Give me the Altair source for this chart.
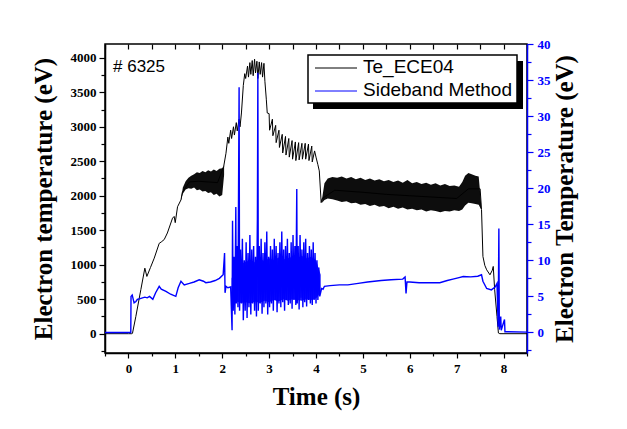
import altair as alt
import pandas as pd

# ---------------- data ----------------
# Te_ECE04 (left axis, eV) : main trace
ece_t = [-0.5, 0.0, 0.07, 0.086, 0.158, 0.265, 0.35, 0.393, 0.47, 0.55, 0.656, 0.70, 0.763, 0.83,
         0.94, 0.975, 0.998, 1.047, 1.12, 1.15, 1.3, 1.5, 1.7, 1.9, 2.03,
         2.08, 2.12, 2.14, 2.18, 2.20, 2.24, 2.26, 2.30, 2.32, 2.36, 2.38, 2.41, 2.45, 2.48, 2.50, 2.54,
         2.56, 2.59, 2.61, 2.64, 2.66, 2.69, 2.71, 2.74, 2.76, 2.79, 2.81, 2.84, 2.86, 2.89, 2.91, 2.94, 2.96,
         3.00, 3.01, 3.07, 3.08, 3.14, 3.15, 3.21, 3.22, 3.28, 3.29, 3.35, 3.36, 3.42, 3.43, 3.49, 3.50,
         3.56, 3.57, 3.63, 3.64, 3.70, 3.71, 3.77, 3.78, 3.84, 3.85, 3.91, 3.92, 3.97, 4.00, 4.04, 4.07,
         4.11, 4.13, 4.4, 5.0, 5.5, 6.0, 6.5, 7.0, 7.25, 7.50, 7.53, 7.56, 7.60, 7.64, 7.71, 7.76, 7.78,
         7.81, 7.86, 7.89, 7.92, 8.5]
ece_v = [0, 0, 0, 5, 250, 640, 950, 830, 960, 1095, 1310, 1330, 1365, 1460,
         1675, 1700, 1610, 1840, 1940, 2050, 2200, 2210, 2200, 2190, 2420,
         2616, 2850, 2760, 2950, 2830, 3000, 2880, 3060, 2940, 3110, 3000, 3200, 3600, 3770, 3700, 3880,
         3720, 3930, 3760, 3960, 3740, 3980, 3780, 3950, 3700, 3940, 3760, 3930, 3720, 3920, 3660, 3400, 3200,
         3190, 2950, 3110, 2870, 3020, 2770, 2950, 2700, 2890, 2620, 2860, 2590, 2830, 2560, 2800, 2530,
         2780, 2510, 2770, 2520, 2760, 2530, 2760, 2530, 2750, 2510, 2720, 2490, 2650, 2560, 2450, 2360,
         1900, 1960, 2080, 2050, 2020, 2000, 1980, 1960, 2100, 2100, 1800, 1120, 990, 926, 854, 920, 975,
         640, 250, 10, 0, 0]

# Te_ECE04 dense-oscillation envelopes (two segments)
band_seg = ["a"] * 17 + ["b"] * 38
band_t = [1.12, 1.16, 1.22, 1.28, 1.34, 1.40, 1.46, 1.52, 1.58, 1.64, 1.70, 1.76, 1.82, 1.88, 1.94, 2.00, 2.04,
          4.13, 4.18, 4.25, 4.35, 4.45, 4.55, 4.65, 4.75, 4.85, 4.95, 5.05, 5.15, 5.25, 5.35, 5.45, 5.55,
          5.65, 5.75, 5.85, 5.95, 6.05, 6.15, 6.25, 6.35, 6.45, 6.55, 6.65, 6.75, 6.85, 6.95, 7.05, 7.12,
          7.18, 7.25, 7.32, 7.40, 7.47, 7.52]
band_hi = [1950, 2120, 2210, 2260, 2290, 2310, 2340, 2330, 2360, 2340, 2370, 2350, 2380, 2360, 2390, 2400, 2440,
           1960, 2180, 2250, 2270, 2260, 2280, 2250, 2270, 2240, 2260, 2230, 2250, 2220, 2240, 2210, 2230,
           2200, 2220, 2190, 2230, 2180, 2200, 2170, 2190, 2160, 2180, 2150, 2170, 2140, 2150, 2130, 2200,
           2290, 2330, 2310, 2290, 2280, 1900]
band_lo = [1930, 2030, 2090, 2110, 2100, 2120, 2080, 2090, 2060, 2070, 2040, 2050, 2010, 2030, 1990, 2010, 2300,
           1900, 1940, 1960, 1950, 1930, 1910, 1920, 1890, 1900, 1870, 1880, 1850, 1870, 1840, 1850, 1820,
           1840, 1810, 1830, 1800, 1810, 1790, 1800, 1770, 1790, 1780, 1760, 1780, 1770, 1790, 1780, 1800,
           1860, 1900, 1890, 1880, 1870, 1800]

# Sideband Method (right axis, eV)
sb_t = [-0.5, 0.05, 0.055, 0.08, 0.12, 0.16, 0.19, 0.25, 0.30, 0.35, 0.40, 0.45, 0.52, 0.58, 0.656,
        0.70, 0.80, 0.90, 1.01, 1.06, 1.12, 1.19, 1.30, 1.40, 1.51, 1.60, 1.65, 1.75, 1.85, 1.94, 2.02,
        2.05, 2.06, 2.08, 2.12, 2.18,
        2.21, 2.22, 2.235, 2.25, 2.27, 2.29, 2.30, 2.32, 2.335, 2.36, 2.37, 2.39, 2.41, 2.43, 2.45, 2.47,
        2.49, 2.51, 2.53, 2.55, 2.57, 2.59, 2.61, 2.63, 2.65, 2.67, 2.69, 2.71, 2.73, 2.75, 2.76, 2.77,
        2.79, 2.81, 2.83, 2.85, 2.87, 2.89, 2.91, 2.93, 2.95, 2.97, 2.99, 3.01, 3.03, 3.05, 3.07, 3.09,
        3.11, 3.13, 3.15, 3.17, 3.19, 3.21, 3.23, 3.25, 3.27, 3.29, 3.31, 3.33, 3.35, 3.37, 3.39, 3.41,
        3.43, 3.45, 3.47, 3.49, 3.51, 3.53, 3.55, 3.57, 3.59, 3.60, 3.62, 3.64, 3.66, 3.68, 3.70, 3.72,
        3.74, 3.76, 3.78, 3.80, 3.82, 3.84, 3.86, 3.88, 3.90, 3.92, 3.94, 3.96, 3.98, 4.00, 4.02, 4.04,
        4.06, 4.08, 4.12, 4.15, 4.18, 4.30, 4.50, 4.68, 4.90, 5.10, 5.39, 5.60, 5.85, 5.90, 5.92, 5.94,
        6.00, 6.20, 6.40, 6.64, 6.80, 6.92, 7.05, 7.14, 7.30, 7.45, 7.53, 7.56, 7.64, 7.74, 7.82, 7.86,
        7.885, 7.90, 7.91, 7.94, 7.95, 8.02, 8.03, 8.5]
sb_v = [0, 0, 5.0, 5.2, 4.1, 4.3, 4.6, 4.7, 4.8, 4.9, 4.8, 5.0, 4.6, 5.5, 6.4,
        6.0, 5.7, 5.3, 5.0, 6.2, 7.1, 6.6, 6.8, 7.0, 7.3, 7.1, 6.9, 7.0, 7.2, 7.5, 8.0,
        11.0, 5.5, 6.4, 6.2, 6.3,
        0.3, 15.5, 3.0, 10.5, 2.5, 17.4, 4.0, 12.0, 3.5, 34.0, 3.0, 11.5, 4.0, 13.0, 1.7, 10.0,
        3.0, 12.5, 2.0, 11.0, 3.5, 13.5, 2.5, 11.5, 4.0, 12.0, 3.0, 10.5, 2.2, 15.7, 36.0, 3.0,
        12.0, 4.0, 13.0, 2.6, 11.0, 3.5, 12.5, 4.0, 14.0, 2.5, 10.5, 3.5, 12.0, 4.0, 11.5, 3.0,
        13.0, 4.5, 12.0, 2.8, 11.0, 4.0, 12.5, 3.5, 14.0, 4.2, 11.5, 3.0, 12.0, 4.5, 13.0, 3.8,
        11.0, 4.0, 12.5, 3.3, 13.5, 4.5, 12.0, 3.8, 19.9, 4.0, 12.0, 3.2, 13.5, 4.8, 11.5, 3.5,
        12.5, 4.2, 13.0, 3.6, 11.0, 4.5, 12.0, 4.0, 11.5, 3.8, 12.5, 4.5, 11.0, 4.0, 10.0, 4.5,
        9.0, 5.0, 6.1, 6.0, 6.4, 6.5, 6.6, 6.6, 6.8, 7.0, 7.2, 7.3, 7.4, 7.7, 5.4, 7.0,
        7.0, 6.9, 6.9, 6.9, 7.2, 7.4, 7.6, 7.75, 7.7, 7.8, 8.0, 7.1, 6.1, 5.9, 6.3, 6.8,
        0.8, 14.4, 0.4, 2.2, 0.3, 1.8, 0.1, 0.05]

# Sideband Method dense-noise core (2.2 s - 4.1 s)
sb_band_t = [2.2, 2.3, 2.4, 2.5, 2.6, 2.7, 2.8, 2.9, 3.0, 3.1, 3.2, 3.3, 3.4, 3.5, 3.6, 3.7, 3.8, 3.9, 4.0, 4.1]
sb_band_lo = [5.5, 4.3, 4.1, 4.2, 4.0, 4.3, 4.1, 4.4, 4.2, 4.5, 4.3, 4.6, 4.4, 4.6, 4.5, 4.4, 4.6, 4.5, 4.7, 5.5]
sb_band_hi = [7.5, 9.0, 9.5, 9.8, 10.0, 9.7, 10.2, 9.9, 10.3, 10.0, 10.4, 10.1, 10.3, 10.5, 10.2, 10.6, 10.3, 10.5, 10.0, 8.0]

x_ticks = [-0.5 + 0.5 * k for k in range(19)]
yl_ticks = list(range(-250, 4001, 250))
yr_ticks = [-2.5 + 2.5 * k for k in range(18)]

series_names = ["Te_ECE04", "Sideband Method"]
shot_label = "# 6325"

# ---------------- chart ----------------
df_ece = pd.DataFrame({"t": ece_t, "v": ece_v, "i": range(len(ece_t))})
df_band = pd.DataFrame({"t": band_t, "lo": band_lo, "hi": band_hi, "seg": band_seg})
df_sb = pd.DataFrame({"t": sb_t, "v": sb_v, "i": range(len(sb_t))})
df_sb_band = pd.DataFrame({"t": sb_band_t, "lo": sb_band_lo, "hi": sb_band_hi})

SERIF = "Liberation Serif"
SANS = "Liberation Sans"

xscale = alt.Scale(domain=[-0.5, 8.5], nice=False, zero=False)
yl_scale = alt.Scale(domain=[-280, 4200], nice=False, zero=False)
yr_scale = alt.Scale(domain=[-2.85, 40], nice=False, zero=False)

common_axis = dict(grid=False, labelFont=SERIF, labelFontWeight="bold", labelFontSize=13,
                   titleFont=SERIF, titleFontWeight="bold", titleFontSize=25, domainWidth=1.5,
                   tickWidth=1.2)


def minor_size(test, minor, major):
    return {"condition": {"test": test, "value": minor}, "value": major}


x_bottom = alt.Axis(orient="bottom", values=x_ticks,
                    labelExpr="datum.value % 1 == 0 ? format(datum.value, 'd') : ''",
                    tickSize=minor_size("datum.value % 1 != 0", 3, 5),
                    labelPadding=4, title="Time (s)", titlePadding=9,
                    domainColor="black", tickColor="black", labelColor="black", titleColor="black",
                    **common_axis)
x_top = alt.Axis(orient="top", values=x_ticks, offset=-5, labels=False, domain=False,
                 tickSize=5, tickColor="black", title="", grid=False, tickWidth=1.2)
y_left = alt.Axis(orient="left", values=yl_ticks, format="d",
                  labelExpr="datum.value % 500 == 0 ? datum.label : ''",
                  tickSize=minor_size("datum.value % 500 != 0", 4, 6),
                  labelPadding=3, title="Electron temperature (eV)", titlePadding=14,
                  domainColor="black", tickColor="black", labelColor="black", titleColor="black",
                  **common_axis)
y_right = alt.Axis(orient="right", values=yr_ticks,
                   labelExpr="datum.value % 5 == 0 ? format(datum.value, 'd') : ''",
                   tickSize=minor_size("datum.value % 5 != 0", 4, 6),
                   labelPadding=4, title="Electron Temperature (eV)", titlePadding=2,
                   titleAngle=270, titleBaseline="top",
                   domainColor="#0000ff", tickColor="#0000ff", labelColor="#0000ff", titleColor="black",
                   **common_axis)

black_band = alt.Chart(df_band).mark_area(color="black", opacity=0.95, clip=True).encode(
    x=alt.X("t:Q", scale=xscale, axis=None),
    y=alt.Y("lo:Q", scale=yl_scale, axis=None),
    y2="hi:Q",
    detail="seg:N",
)
black_line = alt.Chart(df_ece).mark_line(color="black", strokeWidth=1, clip=True).encode(
    x=alt.X("t:Q", scale=xscale, axis=x_bottom),
    y=alt.Y("v:Q", scale=yl_scale, axis=y_left),
    order="i:Q",
)
blue_band = alt.Chart(df_sb_band).mark_area(color="#0000ff", opacity=0.9, clip=True).encode(
    x=alt.X("t:Q", scale=xscale, axis=None),
    y=alt.Y("lo:Q", scale=yr_scale, axis=None),
    y2="hi:Q",
)
blue_line = alt.Chart(df_sb).mark_line(color="#0000ff", strokeWidth=1.4, clip=True).encode(
    x=alt.X("t:Q", scale=xscale, axis=x_top),
    y=alt.Y("v:Q", scale=yr_scale, axis=y_right),
    order="i:Q",
)

one = pd.DataFrame({"k": [0]})
shadow = alt.Chart(one).mark_rect(color="black").encode(
    x=alt.value(208), x2=alt.value(418), y=alt.value(17), y2=alt.value(65))
box = alt.Chart(one).mark_rect(fill="white", stroke="black", strokeWidth=1.5).encode(
    x=alt.value(203), x2=alt.value(412), y=alt.value(11), y2=alt.value(59))
leg_l1 = alt.Chart(one).mark_rule(color="black", strokeWidth=1).encode(
    x=alt.value(210), x2=alt.value(252), y=alt.value(24))
leg_l2 = alt.Chart(one).mark_rule(color="#0000ff", strokeWidth=1).encode(
    x=alt.value(210), x2=alt.value(252), y=alt.value(47))
leg_t1 = alt.Chart(one).mark_text(align="left", baseline="middle", font=SANS, fontSize=19,
                                  color="black").encode(
    x=alt.value(258), y=alt.value(23), text=alt.value(series_names[0]))
leg_t2 = alt.Chart(one).mark_text(align="left", baseline="middle", font=SANS, fontSize=19,
                                  color="black").encode(
    x=alt.value(258), y=alt.value(46), text=alt.value(series_names[1]))
shot = alt.Chart(one).mark_text(align="left", baseline="middle", font=SANS, fontSize=17,
                                color="black").encode(
    x=alt.value(8), y=alt.value(23), text=alt.value(shot_label))

chart = alt.layer(black_band, black_line, blue_band, blue_line,
                  shadow, box, leg_l1, leg_l2, leg_t1, leg_t2, shot).resolve_scale(
    y="independent"
).resolve_axis(
    x="independent", y="independent"
).properties(
    width=422, height=309, autosize="none", background="white",
    padding={"left": 97, "top": 36, "right": 84, "bottom": 60},
).configure_view(stroke="black", strokeWidth=1.5)

chart.save("out.html", embed_options={"renderer": "svg", "actions": False})
